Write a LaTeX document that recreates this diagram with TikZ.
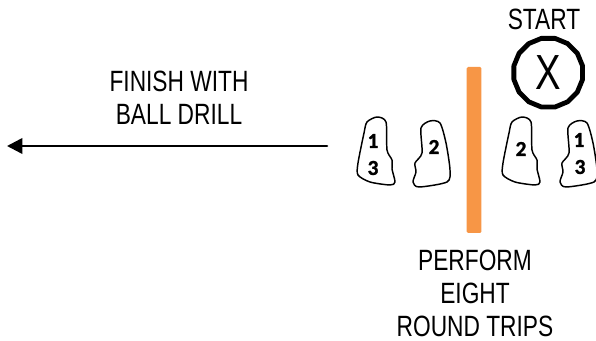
\documentclass[tikz,border=0pt]{standalone}
\usepackage{fontspec}
\setmainfont{Liberation Sans}[FakeStretch=0.775]
\newfontfamily\numfont{Carlito Bold}[FakeBold=1.2]
\usetikzlibrary{arrows.meta}
\usetikzlibrary{shapes.geometric}
\definecolor{barorange}{HTML}{F79646}
\tikzstyle{every path}=[line cap=round,line join=round]
\tikzset{
	label/.style={font=\fontsize{22}{25}\selectfont,align=center,inner sep=0pt},
	line/.style={font=\fontsize{22}{22}\selectfont,anchor=base,inner sep=0pt},
	num/.style={font=\numfont\fontsize{16}{16}\selectfont,inner sep=0pt},
	padline/.style={line width=1.1pt,black},
}
\newcommand{\padwide}[1]{\draw[padline,shift={#1}] plot[smooth cycle,tension=0.45] coordinates {(0,-33) (9,-28) (10,0) (15,10) (15,19) (18,32) (13,35) (-7,32) (-19,25) (-19,13) (-13,-17) (-10,-28)};}
\newcommand{\padslim}[1]{\draw[padline,shift={#1}] plot[smooth cycle,tension=0.45] coordinates {(0,-29) (10,-27) (16,-7) (20,20) (17,32) (-11,37) (-17,32) (-14,22) (-15,13) (-8,3) (-9,-22)};}

\begin{document}
\begin{tikzpicture}[x=0.75pt,y=-0.75pt]
		\tikzstyle{arrow} = [-{Triangle[length=11.5pt, width=11.5pt]}]
		
		\useasboundingbox (0,0) rectangle (596,341);
		
		\coordinate (arrowstart) at (327,146);
		\coordinate (arrowend) at (7,146);
		
		\draw[arrow,line width=1.9pt] (arrowstart) -- (arrowend);
		
		\node[label] (finish) at (179,98) {FINISH WITH\\BALL DRILL};
		\node[label] (start) at (544,19) {START};
		\node[line] (perform) at (475,270.5) {PERFORM};
		\node[line] (eight) at (475,304) {EIGHT};
		\node[line] (trips) at (475,336.5) {ROUND TRIPS};
		
		\node[draw,regular polygon,regular polygon sides=16,minimum size=52.5pt,inner sep=0pt,line width=3.6pt,font=\fontsize{37}{37}\selectfont] (xmark) at (548.2,72.7) {X};
		
		\node[fill=barorange,rounded corners=1pt,minimum width=11pt,minimum height=124.5pt,inner sep=0pt] (bar) at (474,150) {};
		
		\padwide{(377,150)}
		\padslim{(430,150)}
		\padwide{(522,150)}
		\padslim{(577,150)}
		
		\node[num] (leftone) at (373,141) {1};
		\node[num] (leftthree) at (373,168) {3};
		\node[num] (lefttwo) at (434,147) {2};
		\node[num] (righttwo) at (521,149) {2};
		\node[num] (rightone) at (579,140) {1};
		\node[num] (rightthree) at (580,167) {3};
		
	\end{tikzpicture}
\end{document}
